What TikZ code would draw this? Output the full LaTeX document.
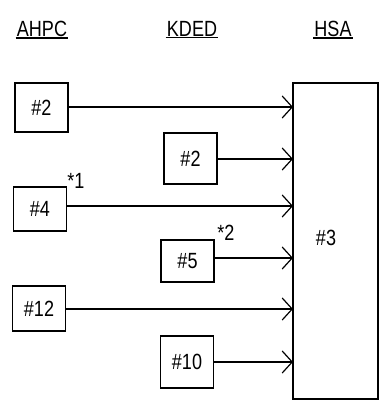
\documentclass[tikz,border=0pt]{standalone}
\usepackage{fontspec}
\usepackage{graphicx}
\setmainfont{Liberation Sans}
\usetikzlibrary{arrows.meta}
\newcommand{\nt}[1]{\scalebox{0.82}[1]{#1}}
\begin{document}
\begin{tikzpicture}[x=1pt,y=-1pt,
  every node/.style={font=\fontsize{22}{26}\selectfont},
  box/.style={draw,line width=1.2pt,minimum width=53pt,minimum height=48pt,inner sep=0pt},
  head/.style={inner sep=1pt},
  flow/.style={line width=1.2pt,-{Straight Barb[length=10pt,width=22pt,line width=1.2pt]}}]
\useasboundingbox (0,0) rectangle (381,409);
% headers
\node[head] (hA) at (42,29) {\nt{AHPC}};
\node[head] (hK) at (192,29) {\nt{KDED}};
\node[head] (hH) at (333,29) {\nt{HSA}};
\foreach \n in {hA,hK,hH} \draw[line width=1.1pt] (\n.south west) ++(0,0) -- (\n.south east);
% HSA box
\draw[line width=1.2pt] (293,83) rectangle (378,399);
\node (h3) at (326,238) {\nt{\#3}};
\coordinate (e1) at (293,107);
\coordinate (e2) at (293,159);
\coordinate (e3) at (293,206);
\coordinate (e4) at (293,258);
\coordinate (e5) at (293,309);
\coordinate (e6) at (293,362);
% boxes
\node[box,minimum height=49pt] (a2) at (41.5,107.5) {\nt{\#2}};
\node[box,minimum height=51pt] (k2) at (190.5,158.5) {\nt{\#2}};
\node[box,minimum height=44pt] (a4) at (40,209) {\nt{\#4}};
\node[box,minimum height=42pt] (k5) at (187.5,261) {\nt{\#5}};
\node[box,minimum height=45pt] (a12) at (39,308.5) {\nt{\#12}};
\node[box,minimum height=52pt] (k10) at (187,362) {\nt{\#10}};
% notes
\node (n1) at (76,181) {\nt{*1}};
\node (n2) at (226,233) {\nt{*2}};
% arrows
\draw[flow] (a2.east |- e1) -- (e1);
\draw[flow] (k2.east |- e2) -- (e2);
\draw[flow] (a4.east |- e3) -- (e3);
\draw[flow] (k5.east |- e4) -- (e4);
\draw[flow] (a12.east |- e5) -- (e5);
\draw[flow] (k10.east |- e6) -- (e6);
\end{tikzpicture}
\end{document}
